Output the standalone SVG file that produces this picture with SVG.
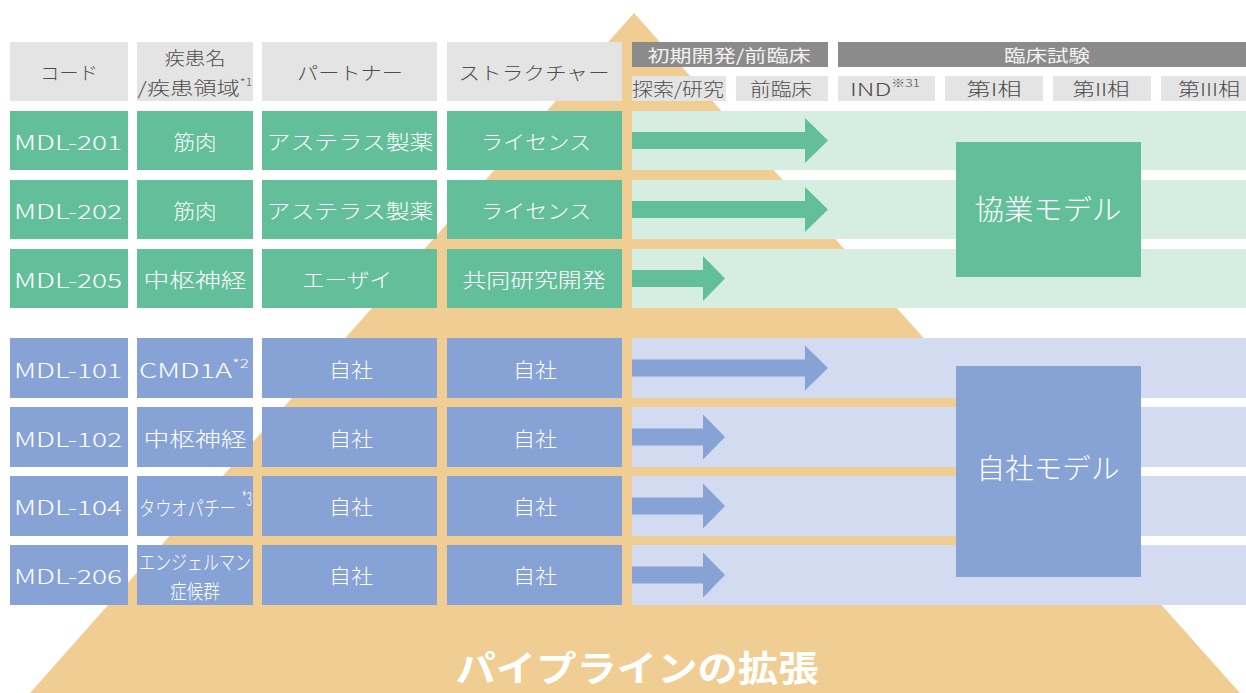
<svg xmlns="http://www.w3.org/2000/svg" width="1246" height="693" viewBox="0 0 1246 693">
<style>
text{font-family:"Noto Sans CJK JP","Noto Sans",sans-serif;dominant-baseline:central;text-anchor:middle}
.hd{fill:#e4e4e4}.hdk{fill:#8b8b8b}
.g{fill:#63be9a}.gl{fill:#d6ede1}
.b{fill:#87a2d4}.bl{fill:#d2dbef}
.th{fill:#4d4d4d;font-size:18px;font-weight:300}
.tk{fill:#f2f2f2;font-size:17px}
.tc{fill:#ffffff;font-size:20px;font-weight:300}
.tm{fill:#ffffff;font-size:28px;font-weight:300}
.ag{fill:#63be9a}.ab{fill:#87a2d4}
</style>
<g id="pyramid">
<polygon points="634,13 1240,693 30,693" fill="#f0cd92"/>
<text x="637" y="666" font-size="36" font-weight="bold" fill="#ffffff" textLength="363" lengthAdjust="spacingAndGlyphs">パイプラインの拡張</text>
</g>
<g id="header">
<rect class="hd" x="10" y="42" width="118" height="59"/>
<text class="th" x="69" y="72" textLength="58" lengthAdjust="spacingAndGlyphs">コード</text>
<rect class="hd" x="137" y="42" width="116" height="59"/>
<text class="th" x="195" y="57" textLength="61" lengthAdjust="spacingAndGlyphs">疾患名</text>
<text class="th" x="195" y="87" textLength="115" lengthAdjust="spacingAndGlyphs">/疾患領域<tspan font-size="10" dy="-6">*1</tspan></text>
<rect class="hd" x="262" y="42" width="175" height="59"/>
<text class="th" x="350" y="72" textLength="106" lengthAdjust="spacingAndGlyphs">パートナー</text>
<rect class="hd" x="447" y="42" width="175" height="59"/>
<text class="th" x="534" y="72" textLength="151" lengthAdjust="spacingAndGlyphs">ストラクチャー</text>
<rect class="hdk" x="632" y="42" width="196" height="25"/>
<text class="tk" x="729" y="54" textLength="163" lengthAdjust="spacingAndGlyphs">初期開発/前臨床</text>
<rect class="hdk" x="838" y="42" width="408" height="25"/>
<text class="tk" x="1047" y="54" textLength="86" lengthAdjust="spacingAndGlyphs">臨床試験</text>
<rect class="hd" x="632" y="76" width="94" height="25"/>
<text class="th" x="678" y="88" font-size="17" textLength="92" lengthAdjust="spacingAndGlyphs">探索/研究</text>
<rect class="hd" x="736" y="76" width="92" height="25"/>
<text class="th" x="781" y="88" font-size="17" textLength="62" lengthAdjust="spacingAndGlyphs">前臨床</text>
<rect class="hd" x="838" y="76" width="97" height="25"/>
<text class="th" x="885" y="88" font-size="17" textLength="70" lengthAdjust="spacingAndGlyphs">IND<tspan font-size="10" dy="-6">※31</tspan></text>
<rect class="hd" x="945" y="76" width="98" height="25"/>
<text class="th" x="994" y="88" font-size="17" textLength="55" lengthAdjust="spacingAndGlyphs">第I相</text>
<rect class="hd" x="1053" y="76" width="98" height="25"/>
<text class="th" x="1101" y="88" font-size="17" textLength="57" lengthAdjust="spacingAndGlyphs">第II相</text>
<rect class="hd" x="1161" y="76" width="85" height="25"/>
<text class="th" x="1209" y="88" font-size="17" textLength="62" lengthAdjust="spacingAndGlyphs">第III相</text>
</g>
<g id="bands">
<rect class="gl" x="632" y="111" width="614" height="59"/>
<rect class="gl" x="632" y="180" width="614" height="59"/>
<rect class="gl" x="632" y="249" width="614" height="59"/>
<rect class="bl" x="632" y="338" width="614" height="60"/>
<rect class="bl" x="632" y="407" width="614" height="60"/>
<rect class="bl" x="632" y="476" width="614" height="60"/>
<rect class="bl" x="632" y="545" width="614" height="60"/>
</g>
<g id="row-MDL-201">
<rect class="g" x="10" y="111" width="118" height="59"/><text class="tc" x="68" y="141" textLength="108" lengthAdjust="spacingAndGlyphs">MDL-201</text>
<rect class="g" x="137" y="111" width="116" height="59"/><text class="tc" x="195" y="141" textLength="43" lengthAdjust="spacingAndGlyphs">筋肉</text>
<rect class="g" x="262" y="111" width="175" height="59"/><text class="tc" x="350" y="141" textLength="167" lengthAdjust="spacingAndGlyphs">アステラス製薬</text>
<rect class="g" x="447" y="111" width="175" height="59"/><text class="tc" x="536" y="141" textLength="110" lengthAdjust="spacingAndGlyphs">ライセンス</text>
</g>
<g id="row-MDL-202">
<rect class="g" x="10" y="180" width="118" height="59"/><text class="tc" x="68" y="210" textLength="108" lengthAdjust="spacingAndGlyphs">MDL-202</text>
<rect class="g" x="137" y="180" width="116" height="59"/><text class="tc" x="195" y="210" textLength="43" lengthAdjust="spacingAndGlyphs">筋肉</text>
<rect class="g" x="262" y="180" width="175" height="59"/><text class="tc" x="350" y="210" textLength="167" lengthAdjust="spacingAndGlyphs">アステラス製薬</text>
<rect class="g" x="447" y="180" width="175" height="59"/><text class="tc" x="536" y="210" textLength="110" lengthAdjust="spacingAndGlyphs">ライセンス</text>
</g>
<g id="row-MDL-205">
<rect class="g" x="10" y="249" width="118" height="59"/><text class="tc" x="68" y="279" textLength="108" lengthAdjust="spacingAndGlyphs">MDL-205</text>
<rect class="g" x="137" y="249" width="116" height="59"/><text class="tc" x="195" y="279" textLength="103" lengthAdjust="spacingAndGlyphs">中枢神経</text>
<rect class="g" x="262" y="249" width="175" height="59"/><text class="tc" x="347" y="279" textLength="90" lengthAdjust="spacingAndGlyphs">エーザイ</text>
<rect class="g" x="447" y="249" width="175" height="59"/><text class="tc" x="534" y="279" textLength="143" lengthAdjust="spacingAndGlyphs">共同研究開発</text>
</g>
<g id="row-MDL-101">
<rect class="b" x="10" y="338" width="118" height="60"/><text class="tc" x="68" y="369" textLength="108" lengthAdjust="spacingAndGlyphs">MDL-101</text>
<rect class="b" x="137" y="338" width="116" height="60"/><text class="tc" x="194" y="369" textLength="110" lengthAdjust="spacingAndGlyphs">CMD1A<tspan font-size="12" dy="-7">*2</tspan></text>
<rect class="b" x="262" y="338" width="175" height="60"/><text class="tc" x="351" y="369" textLength="44" lengthAdjust="spacingAndGlyphs">自社</text>
<rect class="b" x="447" y="338" width="175" height="60"/><text class="tc" x="535" y="369" textLength="44" lengthAdjust="spacingAndGlyphs">自社</text>
</g>
<g id="row-MDL-102">
<rect class="b" x="10" y="407" width="118" height="60"/><text class="tc" x="68" y="438" textLength="108" lengthAdjust="spacingAndGlyphs">MDL-102</text>
<rect class="b" x="137" y="407" width="116" height="60"/><text class="tc" x="195" y="438" textLength="103" lengthAdjust="spacingAndGlyphs">中枢神経</text>
<rect class="b" x="262" y="407" width="175" height="60"/><text class="tc" x="351" y="438" textLength="44" lengthAdjust="spacingAndGlyphs">自社</text>
<rect class="b" x="447" y="407" width="175" height="60"/><text class="tc" x="535" y="438" textLength="44" lengthAdjust="spacingAndGlyphs">自社</text>
</g>
<g id="row-MDL-104">
<rect class="b" x="10" y="476" width="118" height="60"/><text class="tc" x="68" y="506" textLength="108" lengthAdjust="spacingAndGlyphs">MDL-104</text>
<rect class="b" x="137" y="476" width="116" height="60"/>
<text class="tc" x="139" y="507" font-size="17" style="text-anchor:start" textLength="97" lengthAdjust="spacingAndGlyphs">タウオパチー</text>
<text class="tc" x="242" y="497" font-size="10" style="text-anchor:start" textLength="10" lengthAdjust="spacingAndGlyphs">*3</text>
<rect class="b" x="262" y="476" width="175" height="60"/><text class="tc" x="351" y="506" textLength="44" lengthAdjust="spacingAndGlyphs">自社</text>
<rect class="b" x="447" y="476" width="175" height="60"/><text class="tc" x="535" y="506" textLength="44" lengthAdjust="spacingAndGlyphs">自社</text>
</g>
<g id="row-MDL-206">
<rect class="b" x="10" y="545" width="118" height="60"/><text class="tc" x="68" y="575" textLength="108" lengthAdjust="spacingAndGlyphs">MDL-206</text>
<rect class="b" x="137" y="545" width="116" height="60"/>
<text class="tc" x="195" y="561" font-size="17" textLength="112" lengthAdjust="spacingAndGlyphs">エンジェルマン</text>
<text class="tc" x="195" y="590" font-size="17" textLength="50" lengthAdjust="spacingAndGlyphs">症候群</text>
<rect class="b" x="262" y="545" width="175" height="60"/><text class="tc" x="351" y="575" textLength="44" lengthAdjust="spacingAndGlyphs">自社</text>
<rect class="b" x="447" y="545" width="175" height="60"/><text class="tc" x="535" y="575" textLength="44" lengthAdjust="spacingAndGlyphs">自社</text>
</g>
<g id="connectors">
<polygon class="ag" points="632,132 805,132 805,118 828,140.5 805,163 805,149 632,149"/>
<polygon class="ag" points="632,201 805,201 805,187 828,209.5 805,232 805,218 632,218"/>
<polygon class="ag" points="632,270 703,270 703,256 725,278.5 703,301 703,287 632,287"/>
<polygon class="ab" points="632,359.5 805,359.5 805,345.5 828,368 805,390.5 805,376.5 632,376.5"/>
<polygon class="ab" points="632,428.5 703,428.5 703,414.5 725,437 703,459.5 703,445.5 632,445.5"/>
<polygon class="ab" points="632,497.5 703,497.5 703,483.5 725,506 703,528.5 703,514.5 632,514.5"/>
<polygon class="ab" points="632,566.5 703,566.5 703,552.5 725,575 703,597.5 703,583.5 632,583.5"/>
</g>
<g id="kyogyo-model">
<rect class="g" x="956" y="142" width="185" height="135"/>
<text class="tm" x="1048" y="208" textLength="147" lengthAdjust="spacingAndGlyphs">協業モデル</text>
</g>
<g id="jisha-model">
<rect class="b" x="956" y="366" width="185" height="211"/>
<text class="tm" x="1048" y="467" textLength="143" lengthAdjust="spacingAndGlyphs">自社モデル</text>
</g>
</svg>
